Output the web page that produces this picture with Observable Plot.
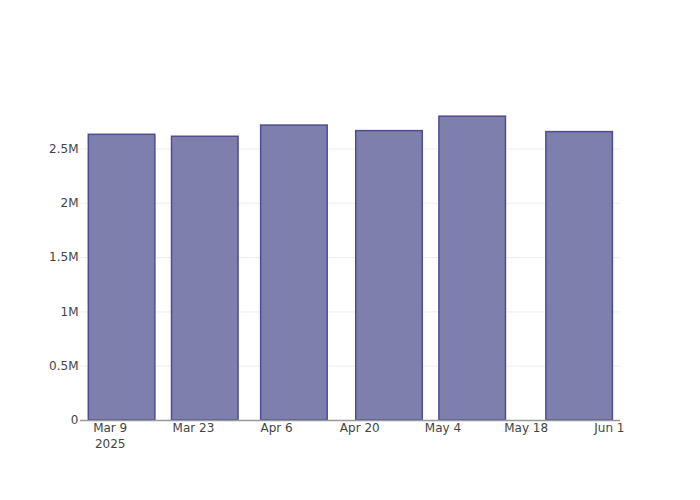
<!DOCTYPE html>
<html>
<head>
<meta charset="utf-8">
<script src="https://cdn.jsdelivr.net/npm/d3@7"></script>
<script src="https://cdn.jsdelivr.net/npm/@observablehq/plot@0.6"></script>
<style>
  html, body { margin: 0; padding: 0; background: #fff; }
  #chart { width: 700px; height: 500px; }
</style>
</head>
<body>
<div id="chart"></div>
<script>
// Data
const dates = ["2025-03-11", "2025-03-25", "2025-04-09", "2025-04-25", "2025-05-09", "2025-05-27"];
const values = [2631000, 2613000, 2716000, 2665000, 2798000, 2656000];
const xTickDates = ["2025-03-09", "2025-03-23", "2025-04-06", "2025-04-20", "2025-05-04", "2025-05-18", "2025-06-01"];
const yTicks = [0, 500000, 1000000, 1500000, 2000000, 2500000];

const DAY = 86400000;
const halfWidth = 0.8 * 14 * DAY / 2;
const data = dates.map((d, i) => ({date: new Date(d + "T00:00:00Z"), value: values[i]}));
const xTicks = xTickDates.map(d => new Date(d + "T00:00:00Z"));
const monthFmt = d3.utcFormat("%b %-d");

const fmtY = v => v === 0 ? "0" : (v / 1e6) + "M";

const chart = Plot.plot({
  width: 700,
  height: 500,
  marginLeft: 80,
  marginRight: 80,
  marginTop: 100,
  marginBottom: 80,
  style: {fontFamily: "'DejaVu Sans', Verdana, sans-serif", fontSize: "12px", color: "#444", background: "#fff"},
  x: {type: "utc", domain: [new Date("2025-03-04T00:00:00Z"), new Date("2025-06-02T21:00:00Z")]},
  y: {domain: [0, 2947000]},
  marks: [
    Plot.gridY(yTicks.slice(1), {stroke: "#eee", strokeOpacity: 1, strokeWidth: 1}),
    Plot.rectY(data, {
      x1: d => new Date(+d.date - halfWidth),
      x2: d => new Date(+d.date + halfWidth),
      y: "value",
      fill: "#7f7fae",
      stroke: "#4d4d90",
      strokeWidth: 1.5
    }),
    Plot.ruleY([0], {stroke: "#999", strokeWidth: 1.5}),
    Plot.axisY({ticks: yTicks, tickFormat: fmtY, tickSize: 0, tickPadding: 2, label: null, fill: "#444", fontSize: 12}),
    Plot.axisX({ticks: xTicks, tickFormat: (d, i) => i === 0 ? monthFmt(d) + "\n" + d.getUTCFullYear() : monthFmt(d), tickSize: 0, tickPadding: 0, label: null, fill: "#444", fontSize: 12, lineHeight: 1.35})
  ]
});
document.getElementById("chart").appendChild(chart);
</script>
</body>
</html>
